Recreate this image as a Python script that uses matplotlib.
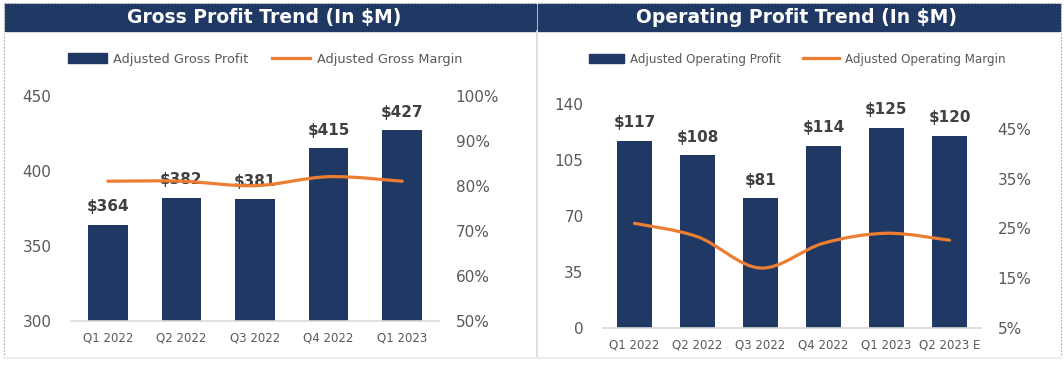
import numpy as np
import matplotlib.pyplot as plt
from matplotlib.path import Path
from matplotlib.patches import PathPatch, Rectangle, Patch
from matplotlib.lines import Line2D

# dados
gp_quarters = ['Q1 2022', 'Q2 2022', 'Q3 2022', 'Q4 2022', 'Q1 2023']
gross_profit = [364, 382, 381, 415, 427]
gross_margin = [81, 81, 80, 82, 81]

op_quarters = ['Q1 2022', 'Q2 2022', 'Q3 2022', 'Q4 2022', 'Q1 2023', 'Q2 2023 E']
op_profit = [117, 108, 81, 114, 125, 120]
op_margin = [26, 23.3, 17, 22, 24, 22.6]

NAVY = '#1F3864'
ORANGE = '#ED7D31'
GRAY = '#595959'
LABEL = '#404040'
LINEGRAY = '#D9D9D9'

plt.rcParams['font.family'] = ['DejaVu Sans']

W, H = 1064, 365
fig = plt.figure(figsize=(W / 100, H / 100), dpi=100)


def fx(px):
    return px / W


def fy(py):
    return 1 - py / H


def smooth_path(xs, ys):
    # curva suavizada estilo Excel (Catmull-Rom -> Bezier)
    pts = np.column_stack([xs, ys]).astype(float)
    n = len(pts)
    verts = [pts[0]]
    codes = [Path.MOVETO]
    for i in range(n - 1):
        p0 = pts[max(i - 1, 0)]
        p1 = pts[i]
        p2 = pts[i + 1]
        p3 = pts[min(i + 2, n - 1)]
        c1 = p1 + (p2 - p0) / 6
        c2 = p2 - (p3 - p1) / 6
        verts += [c1, c2, p2]
        codes += [Path.CURVE4] * 3
    return Path(verts, codes)


def draw_panel(rect, cats, bars, margin, ylim, yticks, y2lim, y2ticks, width):
    ax = fig.add_axes(rect)
    x = np.arange(len(cats))
    ax.bar(x, bars, width=width, color=NAVY, zorder=2)
    ax.set_xlim(-0.5, len(cats) - 0.5)
    ax.set_ylim(*ylim)
    ax.set_yticks(yticks)
    ax.set_xticks(x)
    ax.set_xticklabels(cats, fontsize=8.5, color=GRAY)
    ax.tick_params(axis='y', length=0, pad=14, labelsize=11, labelcolor=GRAY)
    ax.tick_params(axis='x', length=0, pad=8)
    for s in ['top', 'right', 'left']:
        ax.spines[s].set_visible(False)
    ax.spines['bottom'].set_color(LINEGRAY)
    ax.spines['bottom'].set_linewidth(1.2)
    for xi, v in zip(x, bars):
        ax.annotate(f'${v}', (xi, v), xytext=(0, 13), textcoords='offset points',
                    ha='center', va='center', fontsize=11, fontweight='bold',
                    color=LABEL, zorder=5)

    ax2 = ax.twinx()
    ax2.set_ylim(*y2lim)
    ax2.set_yticks(y2ticks)
    ax2.set_yticklabels([f'{t}%' for t in y2ticks])
    ax2.tick_params(axis='y', length=0, pad=12, labelsize=11, labelcolor=GRAY)
    for s in ax2.spines.values():
        s.set_visible(False)
    ax2.add_patch(PathPatch(smooth_path(x, margin), fill=False, edgecolor=ORANGE,
                            linewidth=2.3, capstyle='round', zorder=3))
    return ax, ax2


# painel esquerdo
draw_panel([fx(71), fy(320.7), fx(439) - fx(71), fy(95.7) - fy(320.7)],
           gp_quarters, gross_profit, gross_margin,
           (300, 450), [300, 350, 400, 450], (50, 100), [50, 60, 70, 80, 90, 100],
           0.54)

# painel direito
draw_panel([fx(603), fy(327.7), fx(981) - fx(603), fy(104) - fy(327.7)],
           op_quarters, op_profit, op_margin,
           (0, 140), [0, 35, 70, 105, 140], (5, 50), [5, 15, 25, 35, 45],
           0.57)

# barras de título
fig.patches.append(Rectangle((fx(4.5), fy(31)), fx(536) - fx(4.5), fy(3.5) - fy(31),
                             transform=fig.transFigure, color=NAVY, zorder=0))
fig.patches.append(Rectangle((fx(537.5), fy(31)), fx(1060) - fx(537.5), fy(3.5) - fy(31),
                             transform=fig.transFigure, color=NAVY, zorder=0))
fig.text(fx(264), fy(17.5), 'Gross Profit Trend (In $M)', ha='center', va='center',
         color='white', fontsize=13.5, fontweight='bold')
fig.text(fx(796), fy(17.5), 'Operating Profit Trend (In $M)', ha='center', va='center',
         color='white', fontsize=13.5, fontweight='bold')

# bordas
fig.add_artist(Line2D([fx(4), fx(4)], [fy(3), fy(357)], color='#A6A6A6', lw=0.8,
                      ls=(0, (1.5, 1.5))))
fig.add_artist(Line2D([fx(1060.5), fx(1060.5)], [fy(3), fy(357)], color='#A6A6A6', lw=0.8,
                      ls=(0, (1.5, 1.5))))
fig.add_artist(Line2D([fx(4), fx(1060.5)], [fy(3), fy(3)], color='#A6A6A6', lw=0.8,
                      ls=(0, (1.5, 1.5))))
fig.add_artist(Line2D([fx(536.5), fx(536.5)], [fy(31), fy(358)], color=LINEGRAY, lw=1.2))
fig.add_artist(Line2D([fx(4), fx(1060.5)], [fy(358), fy(358)], color='#EDEDED', lw=1.5))

# legendas
leg_kw = dict(loc='center', ncol=2, frameon=False, handlelength=3,
              handletextpad=0.5, columnspacing=1.8, labelcolor=GRAY)
fig.legend([Patch(color=NAVY), Line2D([], [], color=ORANGE, lw=2.3)],
           ['Adjusted Gross Profit', 'Adjusted Gross Margin'],
           bbox_to_anchor=(fx(265), fy(59)), fontsize=9.3, **leg_kw)
fig.legend([Patch(color=NAVY), Line2D([], [], color=ORANGE, lw=2.3)],
           ['Adjusted Operating Profit', 'Adjusted Operating Margin'],
           bbox_to_anchor=(fx(797), fy(59)), fontsize=8.6, **leg_kw)

fig.savefig('out.png', dpi=100)
